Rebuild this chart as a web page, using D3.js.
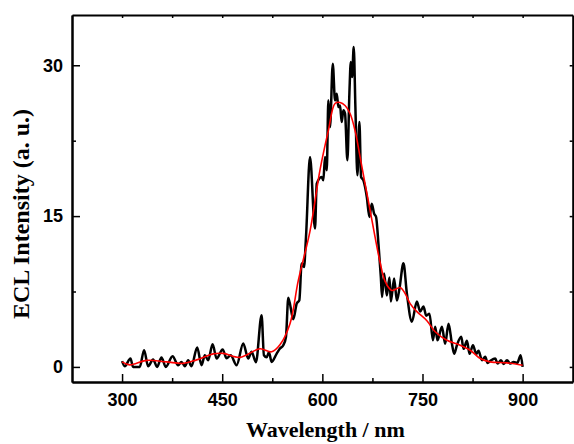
<!DOCTYPE html>
<html><head><meta charset="utf-8">
<script src="https://cdn.jsdelivr.net/npm/d3@7"></script>
<style>
html,body{margin:0;padding:0;background:#fff;}
svg{display:block;}
.tick text{font-family:"Liberation Sans",Arial,sans-serif;font-weight:bold;font-size:18px;fill:#000;}
</style></head>
<body>
<svg id="chart" width="574" height="444"></svg>
<script>
// ECL spectrum (raw, black)
const rawWavelength = [300,304,312.6,316.5,326.5,333,339,346.5,352.5,359,365.5,375.6,384,389,394,399,404,412.5,419,424,429,435.6,441.6,450.6,456.6,462.6,471.6,481.5,489,494,500.5,509,512.5,516.6,520,524,531.6,536.5,541.5,545.5,549,556.5,561.6,565.5,569,572.5,575.5,581.5,589,591.6,599,601.5,604,606.6,609,611.5,615.6,619,621.6,624,626.5,629,631.5,634,637.5,640.5,642.6,644.5,647,649.5,652.5,655.5,658,661.5,666.6,670.5,674,677.5,680.5,684,687.6,689.5,692.5,696.6,700.5,702.6,707.5,711.6,715.5,721.5,726.6,734.1,741.6,746.5,751.5,755.5,760.5,765.6,769,772.5,779.1,784,789,794.1,797.5,801.6,808,811.5,816.6,820.5,825.6,830.5,834,839.1,844,847.5,851.5,859,862.5,867.6,871.5,876.6,881.5,886.5,892,897,900];
const rawIntensity = [0.57,0.07,0.83,0,0,1.66,0.07,0.74,0,0.93,0,1.06,0.17,0.5,0.07,0.67,0.07,1.93,0.17,1.16,0.67,2.26,0.83,1.73,0.86,1.16,0.17,2.33,0.83,1.5,0.47,5.14,1.16,0.96,1.46,0.5,1.33,1.83,2.16,2.98,6.88,4.74,6.3,6.63,10.28,9.94,12.92,20.87,13.76,18.23,18.89,18.56,20.87,19.55,26.51,23.86,30.16,26.51,27.18,25.84,26.0,24.35,25.52,25.19,20.55,27.18,30.32,28.83,31.81,25.84,19.06,24.35,18.89,18.56,16.9,14.91,16.24,15.25,14.91,12.27,8.95,6.96,9.3,7.1,8.9,6.5,8.8,6.6,7.8,10.3,7.3,4.5,6.5,5.5,6.0,5.1,5.3,2.65,4.0,2.65,4.0,2.3,4.3,2.3,1.3,2.16,3.0,1.8,2.6,1.3,2.16,1.3,1.6,0.67,1.0,0.4,0.6,0.83,0.33,0.67,0.3,0.67,0.33,0.5,0.4,1.16,0];
// smoothed fit (red)
const fitWavelength = [300,311.5,336.6,366.6,391.5,411.6,436.5,451.5,476.5,506.5,524,536.5,551.5,564,581.5,596.5,609,619,626.5,634,641.5,649,656.5,664,671.5,679,686.5,694,704,716.5,724,731.5,741.6,756.6,769,786.6,806.5,821.5,836.5,851.5,876.6,900];
const fitIntensity = [0.5,0.2,0.65,0.5,0.35,0.7,1.3,1.35,0.95,1.8,1.5,2.2,4.3,8.6,13.5,19.6,23.5,26.2,26.3,26.0,25.2,23.5,20.9,18.2,15.6,12.9,10.4,8.5,7.6,7.9,7.3,6.3,5.5,4.6,3.5,2.65,2.16,1.66,0.83,0.5,0.4,0.17];
const xMajorTicks = [300,450,600,750,900];
const xMinorTicks = [375,525,675,825];
const yMajorTicks = [0,15,30];
const yMinorTicks = [7.5,22.5];
const xLabel = "Wavelength / nm";
const yLabel = "ECL Intensity (a. u.)";

const svg = d3.select("#chart");
const L = 72, R = 572.7, T = 15, B = 382;
const x = d3.scaleLinear().domain([225,975]).range([L,R]);
const y = d3.scaleLinear().domain([-1.5,35]).range([B,T]);

const g = svg.append("g");

// curves
const rawData = rawWavelength.map((w,i)=>[w,rawIntensity[i]]);
const fitData = fitWavelength.map((w,i)=>[w,fitIntensity[i]]);
const line = d3.line().x(d=>x(d[0])).y(d=>y(d[1])).curve(d3.curveMonotoneX);
const fitLine = d3.line().x(d=>x(d[0])).y(d=>y(d[1])).curve(d3.curveCatmullRom.alpha(0.5));
g.append("path").datum(rawData).attr("d",line).attr("fill","none").attr("stroke","#000").attr("stroke-width",2.5).attr("stroke-linejoin","round");
g.append("path").datum(fitData).attr("d",fitLine).attr("fill","none").attr("stroke","#ff0000").attr("stroke-width",1.6);

function styleAxis(sel){
  sel.select(".domain").attr("stroke","#000").attr("stroke-width",2);
  sel.selectAll(".tick line").attr("stroke","#000").attr("stroke-width",1.5);
}
// bottom
g.append("g").attr("transform",`translate(0,${B})`)
  .call(d3.axisBottom(x).tickValues(xMajorTicks).tickSize(-8).tickSizeOuter(0).tickPadding(11).tickFormat(d3.format("d")))
  .call(styleAxis);
g.append("g").attr("transform",`translate(0,${B})`)
  .call(d3.axisBottom(x).tickValues(xMinorTicks).tickSize(-4).tickSizeOuter(0).tickFormat(""))
  .call(styleAxis);
// left
g.append("g").attr("transform",`translate(${L},0)`)
  .call(d3.axisLeft(y).tickValues(yMajorTicks).tickSize(-8).tickSizeOuter(0).tickPadding(9).tickFormat(d3.format("d")))
  .call(styleAxis);
g.append("g").attr("transform",`translate(${L},0)`)
  .call(d3.axisLeft(y).tickValues(yMinorTicks).tickSize(-4).tickSizeOuter(0).tickFormat(""))
  .call(styleAxis);
// top
g.append("g").attr("transform",`translate(0,${T})`)
  .call(d3.axisTop(x).tickValues(xMajorTicks.concat(xMinorTicks)).tickSize(-3).tickSizeOuter(0).tickFormat(""))
  .call(styleAxis);
// right
g.append("g").attr("transform",`translate(${R},0)`)
  .call(d3.axisRight(y).tickValues(yMajorTicks.concat(yMinorTicks)).tickSize(-3).tickSizeOuter(0).tickFormat(""))
  .call(styleAxis);

// titles
svg.append("text").attr("x",(L+R)/2 + 3).attr("y",437).attr("text-anchor","middle")
  .attr("font-family","'Liberation Serif','Times New Roman',serif").attr("font-weight","bold").attr("font-size",22)
  .text(xLabel);
svg.append("text").attr("transform",`translate(29,214) rotate(-90)`).attr("text-anchor","middle")
  .attr("font-family","'Liberation Serif','Times New Roman',serif").attr("font-weight","bold").attr("font-size",24)
  .text(yLabel);
</script>
</body></html>
